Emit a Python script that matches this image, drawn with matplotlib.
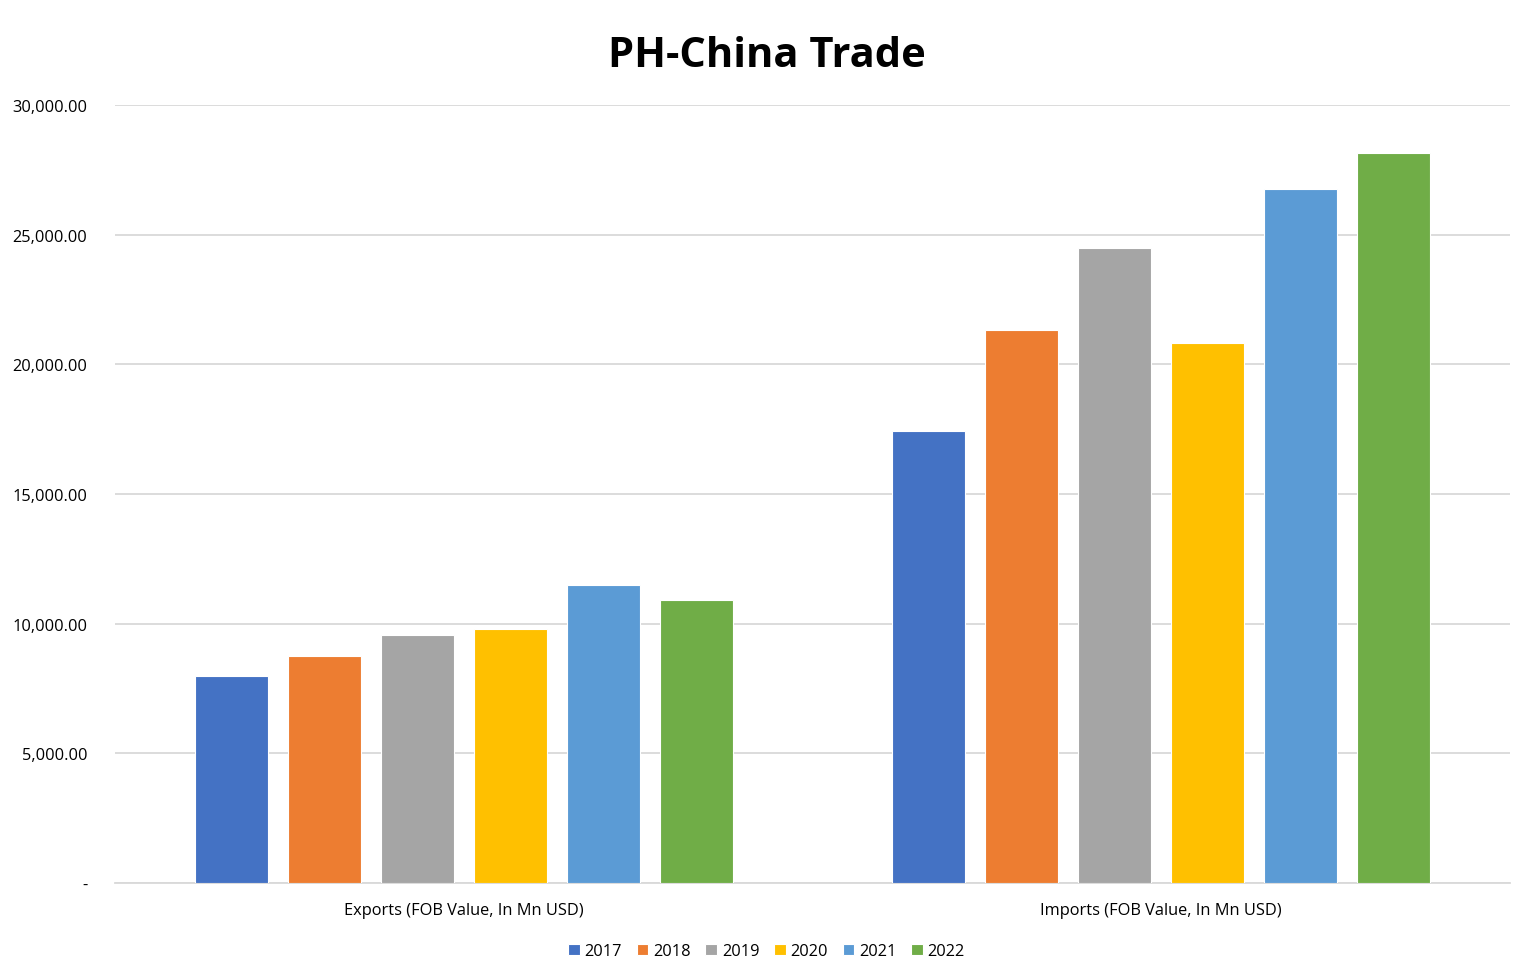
import matplotlib
matplotlib.use("Agg")
import matplotlib.pyplot as plt
import numpy as np

categories = ["Exports (FOB Value, In Mn USD)", "Imports (FOB Value, In Mn USD)"]
years = ["2017", "2018", "2019", "2020", "2021", "2022"]
exports = [7980, 8750, 9560, 9790, 11490, 10910]
imports = [17430, 21320, 24490, 20820, 26760, 28150]
colors = ["#4472C4", "#ED7D31", "#A5A5A5", "#FFC000", "#5B9BD5", "#70AD47"]
yticks = [0, 5000, 10000, 15000, 20000, 25000, 30000]

plt.rcParams['font.family'] = ['Open Sans', 'DejaVu Sans']

fig = plt.figure(figsize=(15.33, 9.79), dpi=100)
ax = fig.add_axes([115/1533, (979-884)/979, (1510-115)/1533, (884-106)/979])

x = np.arange(len(categories))
step = 93/697.5
width = 73/697.5
for i, yr in enumerate(years):
    vals = [exports[i], imports[i]]
    ax.bar(x + (i - 2.5)*step, vals, width, color=colors[i], label=yr,
           edgecolor='white', linewidth=0.8, zorder=3)

ax.set_xlim(-0.5, 1.5)
ax.set_ylim(0, 30000)
ax.set_yticks(yticks)
ax.set_yticklabels(["-" if v == 0 else f"{v:,.2f}" for v in yticks], fontsize=11.8)
ax.set_xticks(x)
ax.set_xticklabels(categories, fontsize=11.8)
ax.tick_params(length=0, pad=14)
ax.tick_params(axis='y', pad=20)
ax.grid(axis='y', color='#D9D9D9', linewidth=1.3, zorder=0)
for s in ['top', 'right', 'left']:
    ax.spines[s].set_visible(False)
ax.spines['bottom'].set_color('#D9D9D9')
ax.spines['bottom'].set_linewidth(1.3)

fig.suptitle("PH-China Trade", fontsize=30, fontweight='bold', y=0.963)
fig.legend(loc='lower center', ncol=6, frameon=False, fontsize=11.8,
           handlelength=0.7, handleheight=0.7, handletextpad=0.3,
           columnspacing=0.9, bbox_to_anchor=(0.5, 0.004))

fig.savefig("out.png", dpi=100)
